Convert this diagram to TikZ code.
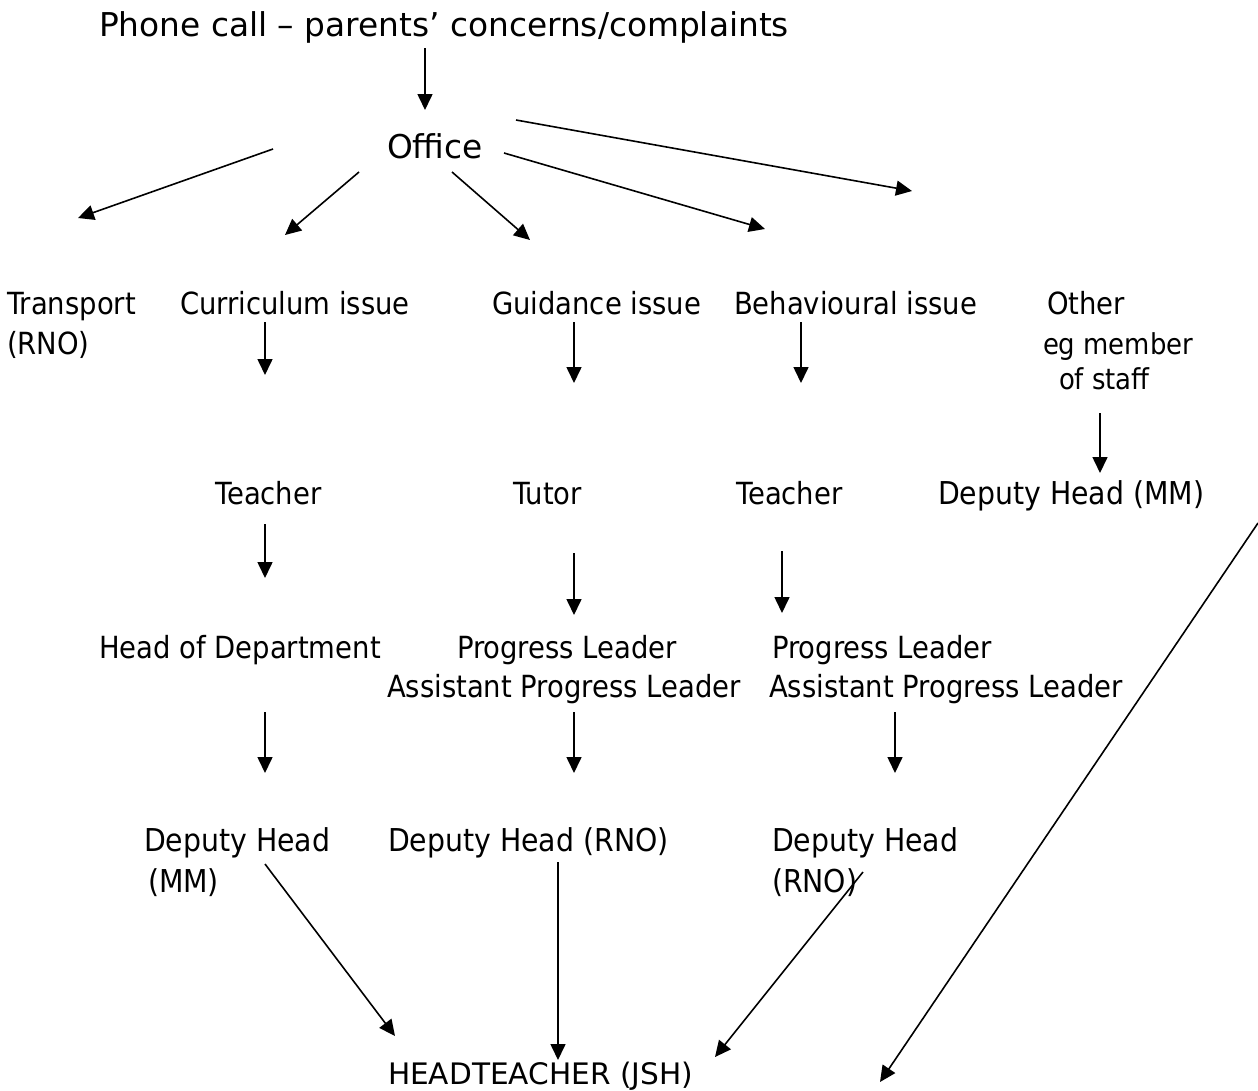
\documentclass[tikz,border=0pt]{standalone}
\usepackage{fontspec}
\setmainfont{DejaVu Sans}[FakeStretch=0.9]
\newfontfamily\widefont{DejaVu Sans}
\usetikzlibrary{arrows.meta}
\tikzset{
  lbl/.style={anchor=base west, inner sep=0pt, outer sep=0pt, font=\fontsize{30.5}{40}\selectfont},
  big/.style={lbl, font=\widefont\fontsize{32.8}{40}\selectfont},
  capsl/.style={lbl, font=\widefont\fontsize{29.6}{40}\selectfont},
  dhl/.style={lbl, font=\fontsize{31.5}{40}\selectfont},
  sml/.style={lbl, font=\fontsize{28.8}{38}\selectfont},
  arr/.style={line width=1.6pt, -{Triangle[length=16pt,width=15pt]}},
}
\begin{document}
\begin{tikzpicture}[x=1pt,y=-1pt]
\useasboundingbox (0,0) rectangle (1258,1090);
% labels
\node[big] (phone) at (99,36) {Phone call – parents’ concerns/complaints};
\node[big] (office) at (387,158) {Office};
\node[lbl] (transport) at (7,314) {Transport};
\node[lbl] (transportb) at (7,354) {(RNO)};
\node[lbl] (curr) at (180,314) {Curriculum issue};
\node[lbl] (guid) at (492,314) {Guidance issue};
\node[lbl] (behav) at (734,314) {Behavioural issue};
\node[lbl] (other) at (1047,314) {Other};
\node[sml] (otherb) at (1043,354) {eg member};
\node[sml] (otherc) at (1059,389) {of staff};
\node[lbl] (teacher1) at (215,504) {Teacher};
\node[lbl] (tutor) at (513,504) {Tutor};
\node[lbl] (teacher2) at (736,504) {Teacher};
\node[dhl] (dhmm) at (938,504) {Deputy Head (MM)};
\node[lbl] (hod) at (99,658) {Head of Department};
\node[lbl] (pl1) at (457,658) {Progress Leader};
\node[lbl] (apl1) at (387,697) {Assistant Progress Leader};
\node[lbl] (pl2) at (772,658) {Progress Leader};
\node[lbl] (apl2) at (769,697) {Assistant Progress Leader};
\node[dhl] (dh1) at (144,851) {Deputy Head};
\node[dhl] (dh1b) at (148,892) {(MM)};
\node[dhl] (dh2) at (388,851) {Deputy Head (RNO)};
\node[dhl] (dh3) at (772,851) {Deputy Head};
\node[dhl] (dh3b) at (772,892) {(RNO)};
\node[capsl] (head) at (388,1084) {HEADTEACHER (JSH)};
% connector end points
\coordinate (p0) at (425,48);   \coordinate (q0) at (425,110);
\coordinate (o1) at (273,149);  \coordinate (t1) at (78,218);
\coordinate (o2) at (359,172);  \coordinate (t2) at (285,235);
\coordinate (o3) at (452,172);  \coordinate (t3) at (530,240);
\coordinate (o4) at (504,153);  \coordinate (t4) at (765,229);
\coordinate (o5) at (516,120);  \coordinate (t5) at (912,191);
\coordinate (r1a) at (265,322); \coordinate (r1b) at (265,375);
\coordinate (r2a) at (574,322); \coordinate (r2b) at (574,383);
\coordinate (r3a) at (801,322); \coordinate (r3b) at (801,383);
\coordinate (r4a) at (1100,413); \coordinate (r4b) at (1100,473);
\coordinate (s1a) at (265,524); \coordinate (s1b) at (265,578);
\coordinate (s2a) at (574,553); \coordinate (s2b) at (574,615);
\coordinate (s3a) at (782,551); \coordinate (s3b) at (782,613);
\coordinate (u1a) at (265,712); \coordinate (u1b) at (265,773);
\coordinate (u2a) at (574,712); \coordinate (u2b) at (574,773);
\coordinate (u3a) at (895,712); \coordinate (u3b) at (895,773);
\coordinate (v1a) at (265,864); \coordinate (v1b) at (395,1036);
\coordinate (v2a) at (558,862); \coordinate (v2b) at (558,1060);
\coordinate (v3a) at (863,872); \coordinate (v3b) at (715,1057);
\coordinate (v4a) at (1258,523); \coordinate (v4b) at (880,1082);
% connectors
\draw[arr] (p0) -- (q0);
\draw[arr] (o1) -- (t1);
\draw[arr] (o2) -- (t2);
\draw[arr] (o3) -- (t3);
\draw[arr] (o4) -- (t4);
\draw[arr] (o5) -- (t5);
\draw[arr] (r1a) -- (r1b);
\draw[arr] (r2a) -- (r2b);
\draw[arr] (r3a) -- (r3b);
\draw[arr] (r4a) -- (r4b);
\draw[arr] (s1a) -- (s1b);
\draw[arr] (s2a) -- (s2b);
\draw[arr] (s3a) -- (s3b);
\draw[arr] (u1a) -- (u1b);
\draw[arr] (u2a) -- (u2b);
\draw[arr] (u3a) -- (u3b);
\draw[arr] (v1a) -- (v1b);
\draw[arr] (v2a) -- (v2b);
\draw[arr] (v3a) -- (v3b);
\draw[arr] (v4a) -- (v4b);
\end{tikzpicture}
\end{document}
